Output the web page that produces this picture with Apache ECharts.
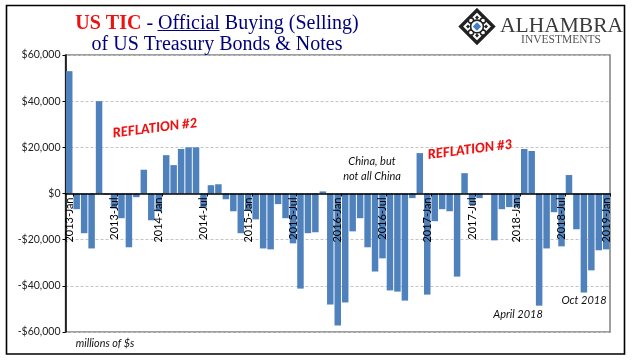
<!DOCTYPE html>
<html><head><meta charset="utf-8">
<style>html,body{margin:0;padding:0;background:#fff}#c{width:641px;height:361px}</style>
<script src="https://cdn.jsdelivr.net/npm/echarts@6/dist/echarts.min.js"></script>
</head><body><div id="c"></div>
<script>
const months = [
'2013-Jan','2013-Feb','2013-Mar','2013-Apr','2013-May','2013-Jun','2013-Jul','2013-Aug','2013-Sep','2013-Oct','2013-Nov','2013-Dec',
'2014-Jan','2014-Feb','2014-Mar','2014-Apr','2014-May','2014-Jun','2014-Jul','2014-Aug','2014-Sep','2014-Oct','2014-Nov','2014-Dec',
'2015-Jan','2015-Feb','2015-Mar','2015-Apr','2015-May','2015-Jun','2015-Jul','2015-Aug','2015-Sep','2015-Oct','2015-Nov','2015-Dec',
'2016-Jan','2016-Feb','2016-Mar','2016-Apr','2016-May','2016-Jun','2016-Jul','2016-Aug','2016-Sep','2016-Oct','2016-Nov','2016-Dec',
'2017-Jan','2017-Feb','2017-Mar','2017-Apr','2017-May','2017-Jun','2017-Jul','2017-Aug','2017-Sep','2017-Oct','2017-Nov','2017-Dec',
'2018-Jan','2018-Feb','2018-Mar','2018-Apr','2018-May','2018-Jun','2018-Jul','2018-Aug','2018-Sep','2018-Oct','2018-Nov','2018-Dec',
'2019-Jan'];
const netBuying = [
53000,-6800,-17200,-23800,40000,-500,-6500,-10700,-23300,-1600,10300,-11600,
-7700,16600,12300,19300,20000,20000,-6000,3600,4000,-2500,-7700,-17200,
-7500,-11200,-23800,-24200,-4600,-10700,-21600,-41200,-17200,-16800,900,-48100,
-57200,-47200,-16400,-10700,-23300,-33800,-28100,-42000,-42500,-46400,-2000,17500,
-43800,-12000,-6800,-7700,-36000,8800,-5000,-2000,0,-20300,-6800,-5900,
-6000,19300,18400,-48600,-23800,-8100,-22900,8000,-15500,-42900,-33300,-24600,
-24200];
const yMin = -60000, yMax = 60000, yStep = 20000;
const titleLine1 = ['US TIC', ' - ', 'Official', ' Buying (Selling)'];
const titleLine2 = 'of US Treasury Bonds & Notes';
const navy = '#00007a';

const chart = echarts.init(document.getElementById('c'), null, {renderer:'canvas'});

function fmt(v){
  if (v === 0) return '$0';
  const s = Math.abs(v).toLocaleString('en-US');
  return (v < 0 ? '-$' : '$') + s;
}
function note(text, x, y, size){
  return {type:'text', x:x, y:y, z:20, style:{text:text, align:'center', verticalAlign:'middle',
    font:'italic '+size+'px Lato', fill:'#111111', lineHeight:15}};
}
function reflation(text, x, y){
  return {type:'text', x:x, y:y, rotation:0.125, originX:0, originY:0, z:20,
    style:{text:text, align:'center', verticalAlign:'middle', font:'italic 900 13.2px Lato', fill:'#ee1111'}};
}
const LX = 477, LY = 26.5, LR = 18;
function dia(cx, cy, r, fill, stroke, lw){
  return {type:'polygon', z:20, shape:{points:[[cx,cy-r],[cx+r,cy],[cx,cy+r],[cx-r,cy]]},
    style:{fill:fill, stroke:stroke, lineWidth:lw}};
}
const logo = [dia(LX,LY,LR-1,'none','#222',2.4)];
[[0,-9],[9,0],[0,9],[-9,0]].forEach(o=>{
  logo.push(dia(LX+o[0],LY+o[1],6.2,'#fff','#222',1.8));
  logo.push(dia(LX+o[0],LY+o[1],2,'#222','none',0));
});
[[-6,-6],[6,-6],[6,6],[-6,6]].forEach(o=>{
  logo.push({type:'circle',z:20,shape:{cx:LX+o[0],cy:LY+o[1],r:2.6},style:{fill:'#fff',stroke:'#222',lineWidth:1.5}});
});
logo.push({type:'circle',z:20,shape:{cx:LX,cy:LY,r:6.4},style:{fill:'#fff',stroke:'#222',lineWidth:1.6}});
logo.push(dia(LX,LY,4.2,'#3f7fc4','none',0));

chart.setOption({
  animation:false,
  backgroundColor:'#ffffff',
  title:{
    left:212, top:8, textAlign:'center',
    text:'{r|'+titleLine1[0]+'}{n|'+titleLine1[1]+titleLine1[2]+titleLine1[3]+'}\n{n|'+titleLine2+'}',
    textStyle:{
      fontWeight:'normal',
      rich:{
        r:{fontFamily:'Liberation Serif',fontWeight:'bold',fontSize:20,color:'#f01010',lineHeight:21},
        n:{fontFamily:'Liberation Serif',fontWeight:'normal',fontSize:20,color:navy,lineHeight:21}
      }
    }
  },
  grid:{left:65.5,right:31,top:55,bottom:29,outerBoundsMode:'none',containLabel:false,show:true,borderColor:'#808080',borderWidth:1.5,backgroundColor:'#fff'},
  xAxis:{
    type:'category', data:months, z:5, position:'bottom', offset:-138.5,
    axisLine:{onZero:false,lineStyle:{color:'#000',width:1.5}},
    axisTick:{show:true,length:3,interval:(i)=>i%6===1,lineStyle:{color:'#000'}},
    axisLabel:{interval:5,rotate:90,margin:4,fontFamily:'Lato',fontSize:11,color:'#000',hideOverlap:false},
    splitLine:{show:false}
  },
  yAxis:{
    type:'value', min:yMin, max:yMax, interval:yStep,
    axisLine:{show:true,lineStyle:{color:'#000',width:1.5}},
    axisTick:{show:true,length:3,lineStyle:{color:'#000'}},
    axisLabel:{formatter:fmt,fontFamily:'Lato',fontSize:10.5,color:'#222',margin:5},
    splitLine:{show:true,lineStyle:{color:'#c4c4c4',type:[3,2],width:1}}
  },
  series:[{type:'bar',data:netBuying,barCategoryGap:'13%',itemStyle:{color:'#4f81bd'},silent:true}],
  graphic:[
    {type:'rect',z:1,shape:{x:6.5,y:5.5,width:618,height:348.5},style:{fill:'none',stroke:'#000',lineWidth:1.6}},
    {type:'line',z:20,shape:{x1:157.5,y1:30.5,x2:219.5,y2:30.5},style:{stroke:navy,lineWidth:1.2}},
    ...logo,
    {type:'text',x:500,y:26,z:20,style:{text:'ALHAMBRA',font:'21.5px "Liberation Serif"',fill:'#3a3a3a',verticalAlign:'middle'}},
    {type:'text',x:561,y:39.5,z:20,style:{text:'INVESTMENTS',font:'11.5px "Liberation Serif"',fill:'#555',align:'center',verticalAlign:'middle'}},
    reflation('REFLATION #2',155,128),
    reflation('REFLATION #3',470,149.5),
    note('China, but\nnot all China',372,169,11),
    note('April 2018',518,314,11),
    note('Oct 2018',584,300,11),
    note('millions of $s',105,344,10.8)
  ]
});
</script></body></html>
